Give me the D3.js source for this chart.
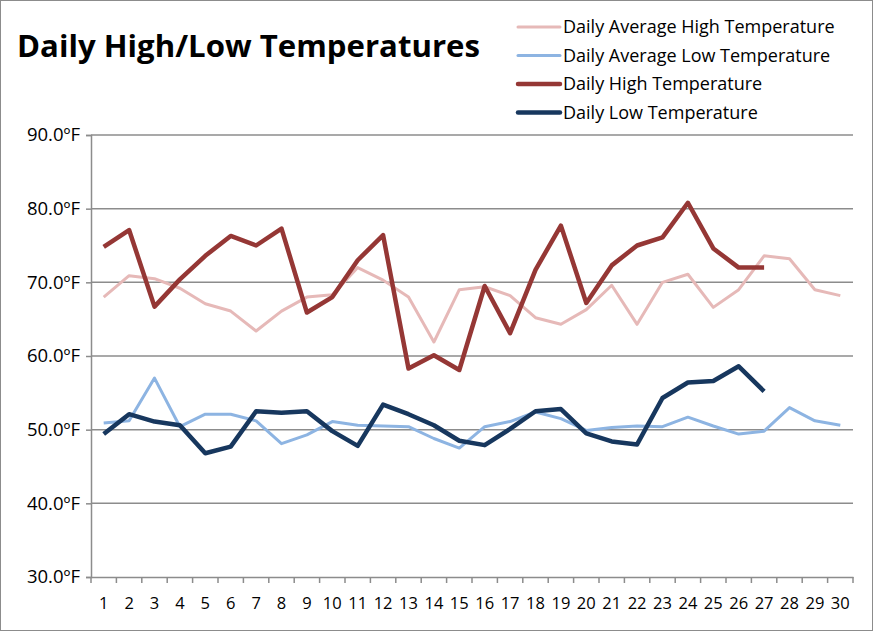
<!DOCTYPE html>
<html>
<head>
<meta charset="utf-8">
<script src="https://cdn.jsdelivr.net/npm/d3@7"></script>
<style>
  body { margin: 0; background: #fff; }
  text { font-family: "Open Sans", Lato, sans-serif; }
</style>
</head>
<body>
<div id="chart"></div>
<script>
// values (ºF)
var days = d3.range(1, 31);
var avgHigh = [68.0, 70.9, 70.5, 69.2, 67.1, 66.1, 63.4, 66.1, 68.0, 68.3,
  72.0, 70.3, 68.0, 61.9, 69.0, 69.4, 68.2, 65.2, 64.3, 66.3,
  69.6, 64.3, 70.0, 71.1, 66.6, 69.0, 73.6, 73.2, 69.0, 68.2];
var avgLow = [50.9, 51.2, 57.0, 50.4, 52.1, 52.1, 51.2, 48.1, 49.3, 51.1,
  50.6, 50.5, 50.4, 48.8, 47.5, 50.4, 51.1, 52.4, 51.5, 49.9,
  50.3, 50.5, 50.4, 51.7, 50.5, 49.4, 49.8, 53.0, 51.2, 50.6];
var dailyHigh = [74.8, 77.1, 66.7, 70.4, 73.6, 76.3, 75.0, 77.3, 65.9, 68.0,
  73.0, 76.4, 58.3, 60.1, 58.1, 69.5, 63.1, 71.7, 77.7, 67.2,
  72.3, 75.0, 76.1, 80.8, 74.6, 72.0, 72.0];
var dailyLow = [49.4, 52.1, 51.1, 50.6, 46.8, 47.7, 52.5, 52.3, 52.5, 49.8,
  47.8, 53.4, 52.1, 50.6, 48.5, 47.9, 50.1, 52.5, 52.8, 49.5,
  48.4, 48.0, 54.3, 56.4, 56.6, 58.6, 55.2];
var yTicks = [30, 40, 50, 60, 70, 80, 90];

var series = [
  { name: "Daily Average High Temperature", values: avgHigh, color: "#e6b9b8", width: 3 },
  { name: "Daily Average Low Temperature", values: avgLow, color: "#8db4e2", width: 3 },
  { name: "Daily High Temperature", values: dailyHigh, color: "#953735", width: 4.5 },
  { name: "Daily Low Temperature", values: dailyLow, color: "#17375e", width: 4.5 }
];

var W = 873, H = 631;
var plotLeft = 91, plotRight = 853, plotTop = 135, plotBottom = 577;

var svg = d3.select("#chart").append("svg")
  .attr("width", W)
  .attr("height", H);

// outer frame
svg.append("rect")
  .attr("x", 0.5).attr("y", 0.5)
  .attr("width", W - 1).attr("height", H - 1)
  .attr("fill", "white")
  .attr("stroke", "#8c8c8c");

var x = d3.scaleBand().domain(days).range([plotLeft, plotRight]);
var y = d3.scaleLinear().domain([30, 90]).range([plotBottom, plotTop]);

// gridlines
svg.append("g")
  .selectAll("line")
  .data(yTicks.filter(function (d) { return d > 30; }))
  .join("line")
  .attr("x1", plotLeft).attr("x2", plotRight)
  .attr("y1", function (d) { return y(d); })
  .attr("y2", function (d) { return y(d); })
  .attr("stroke", "#8c8c8c")
  .attr("stroke-width", 1.5);

// y axis
var yAxis = svg.append("g")
  .attr("transform", "translate(" + plotLeft + ",0)")
  .call(d3.axisLeft(y).tickValues(yTicks).tickSize(5).tickPadding(6)
    .tickFormat(function (d) { return d.toFixed(1) + "ºF"; }));
yAxis.select(".domain").attr("stroke", "#8c8c8c").attr("stroke-width", 1.5);
yAxis.selectAll(".tick line").attr("stroke", "#8c8c8c").attr("stroke-width", 1.5);
yAxis.selectAll("text").attr("font-size", 18.5).attr("fill", "#000")
  .attr("font-family", "'Open Sans', sans-serif");

// x axis with ticks between categories
var xAxis = svg.append("g")
  .attr("transform", "translate(0," + plotBottom + ")")
  .call(d3.axisBottom(x).tickSize(0).tickPadding(20));
xAxis.select(".domain").attr("stroke", "#8c8c8c").attr("stroke-width", 1.5);
xAxis.selectAll("text").attr("font-size", 16.5).attr("fill", "#000")
  .attr("font-family", "Lato, sans-serif");
xAxis.append("g")
  .selectAll("line")
  .data(days.concat([31]))
  .join("line")
  .attr("x1", function (d) { return d <= 30 ? x(d) : plotRight; })
  .attr("x2", function (d) { return d <= 30 ? x(d) : plotRight; })
  .attr("y1", 0).attr("y2", 6)
  .attr("stroke", "#8c8c8c")
  .attr("stroke-width", 1.5);

// lines
var line = d3.line()
  .x(function (d, i) { return x(days[i]) + x.bandwidth() / 2; })
  .y(function (d) { return y(d); });

svg.append("g")
  .selectAll("path")
  .data(series)
  .join("path")
  .attr("d", function (s) { return line(s.values); })
  .attr("fill", "none")
  .attr("stroke", function (s) { return s.color; })
  .attr("stroke-width", function (s) { return s.width; })
  .attr("stroke-linejoin", "round");

// title
svg.append("text")
  .attr("x", 17).attr("y", 57)
  .attr("font-size", 31)
  .attr("font-weight", "bold")
  .attr("textLength", 463)
  .attr("lengthAdjust", "spacingAndGlyphs")
  .text("Daily High/Low Temperatures");

// legend
var legend = svg.append("g")
  .selectAll("g")
  .data(series)
  .join("g")
  .attr("transform", function (s, i) { return "translate(518," + (27 + i * 28.5) + ")"; });

legend.append("line")
  .attr("x1", 0).attr("x2", 42)
  .attr("stroke", function (s) { return s.color; })
  .attr("stroke-width", function (s) { return s.width; })
  .attr("stroke-linecap", "round");

legend.append("text")
  .attr("x", 45).attr("y", 6)
  .attr("font-size", 18)
  .text(function (s) { return s.name; });
</script>
</body>
</html>
